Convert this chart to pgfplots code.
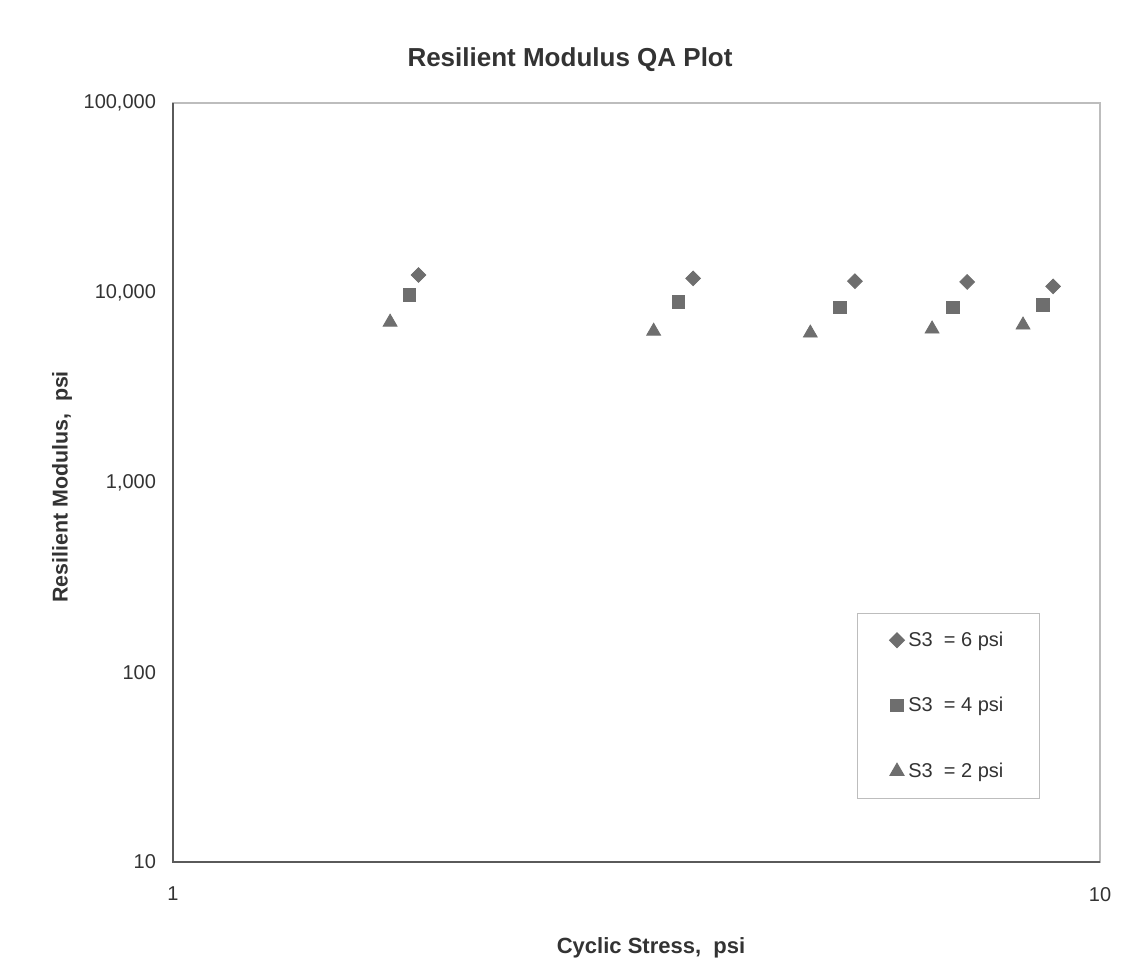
\documentclass[border=0pt]{standalone}
\usepackage{pgfplots}
\pgfplotsset{compat=1.18}
\usepackage{fontspec}
\setmainfont{Liberation Sans}
\definecolor{mk}{HTML}{6E6E6E}
\definecolor{txt}{HTML}{333333}
\definecolor{frameL}{HTML}{BDBDBD}
\definecolor{frameD}{HTML}{5A5A5A}
\begin{document}
\begin{tikzpicture}[x=0.5pt,y=0.5pt]
\useasboundingbox (0,0) rectangle (1123,974);
\fill[white] (0,0) rectangle (1123,974);
\begin{axis}[
  at={(86.5pt,56pt)}, anchor=south west,
  scale only axis, width=463.5pt, height=379.5pt,
  xmode=log, ymode=log,
  xmin=1, xmax=10, ymin=10, ymax=100000,
  xtick={1,10}, ytick={10,100,1000,10000,100000},
  minor xtick={}, minor ytick={},
  log ticks with fixed point,
  /pgf/number format/1000 sep={,},
  /pgf/number format/assume math mode=true,
  major tick length=0pt, minor tick length=0pt,
  tick style={draw=none},
  tick label style={font=\fontsize{10}{12}\selectfont, text=txt},
  yticklabel style={xshift=-5pt},
  xticklabel style={yshift=-9pt},
  axis line style={frameL, line width=0.6pt},
  clip=false,
  legend style={at={(rel axis cs:0.738,0.328)}, anchor=north west,
    draw=frameL, line width=0.5pt, fill=white,
    font=\fontsize{10}{11}\selectfont, text=txt,
    inner xsep=16pt, inner ysep=7pt, row sep=20pt},
  legend cell align=left,
]
\draw[frameD, line width=0.8pt] (rel axis cs:0,1) -- (rel axis cs:0,0) -- (rel axis cs:1,0);
\addplot[only marks, mark=square*, mark size=2.6pt, mark options={rotate=45, fill=mk, draw=mk}]
  coordinates {(1.84,12400) (3.64,11900) (5.44,11500) (7.19,11400) (8.90,10800)};
\addlegendentry{S3\ \ = 6 psi}
\addplot[only marks, mark=square*, mark size=3.1pt, mark options={fill=mk, draw=mk}]
  coordinates {(1.80,9730) (3.51,8940) (5.24,8400) (6.94,8400) (8.68,8610)};
\addlegendentry{S3\ \ = 4 psi}
\addplot[only marks, mark=triangle*, mark size=4pt, mark options={fill=mk, draw=mk}]
  coordinates {(1.715,7000) (3.30,6270) (4.87,6130) (6.59,6440) (8.26,6760)};
\addlegendentry{S3\ \ = 2 psi}
\end{axis}
\node[font=\bfseries\fontsize{13}{15}\selectfont, text=txt] at (570,914) {Resilient Modulus QA Plot};
\node[font=\bfseries\fontsize{10.7}{13}\selectfont, text=txt, rotate=90] at (62,487) {Resilient Modulus,\ \ psi};
\node[font=\bfseries\fontsize{11}{13}\selectfont, text=txt] at (651,26) {Cyclic Stress,\ \ psi};
\end{tikzpicture}
\end{document}
